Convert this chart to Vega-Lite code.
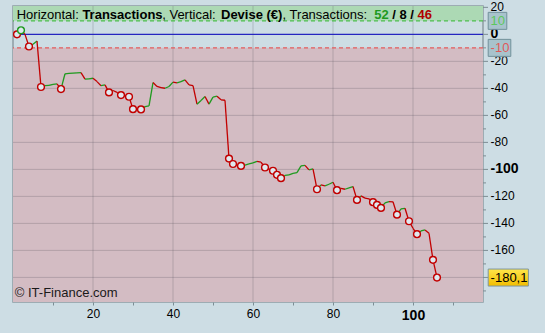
{
  "$schema": "https://vega.github.io/schema/vega-lite/v6.json",
  "width": 470,
  "height": 296,
  "autosize": {"type": "none"},
  "padding": {"left": 13, "top": 6, "right": 62, "bottom": 31},
  "background": "#cddde4",
  "config": {
    "view": {"fill": "#cddde4", "stroke": "#8d9ca3", "strokeWidth": 1.5},
    "font": "Liberation Sans",
    "text": {"font": "Liberation Sans"}
  },
  "resolve": {"scale": {"color": "independent", "fill": "independent", "stroke": "independent", "strokeDash": "independent"}},
  "datasets": {
    "eq": [
      {"t": 1, "v": 0, "c": "L"}, {"t": 2, "v": 3, "c": "G"}, {"t": 3, "v": 0, "c": ""}, {"t": 4, "v": -9, "c": "L"},
      {"t": 5, "v": -7.3, "c": ""}, {"t": 6, "v": -5, "c": ""}, {"t": 7, "v": -39, "c": "L"}, {"t": 8, "v": -38, "c": ""},
      {"t": 9, "v": -37.8, "c": ""}, {"t": 10, "v": -37, "c": ""}, {"t": 11, "v": -36.7, "c": ""}, {"t": 12, "v": -40.5, "c": "L"},
      {"t": 13, "v": -29.2, "c": ""}, {"t": 14, "v": -28.9, "c": ""}, {"t": 15, "v": -28.7, "c": ""}, {"t": 16, "v": -28.5, "c": ""},
      {"t": 17, "v": -28.4, "c": ""}, {"t": 18, "v": -33.2, "c": ""}, {"t": 19, "v": -33, "c": ""}, {"t": 20, "v": -32.5, "c": ""},
      {"t": 21, "v": -35, "c": ""}, {"t": 22, "v": -38, "c": ""}, {"t": 23, "v": -37.4, "c": ""}, {"t": 24, "v": -43, "c": "L"},
      {"t": 25, "v": -41.6, "c": ""}, {"t": 26, "v": -43, "c": ""}, {"t": 27, "v": -45, "c": "L"}, {"t": 28, "v": -45.5, "c": ""},
      {"t": 29, "v": -46.2, "c": "L"}, {"t": 30, "v": -55.4, "c": "L"}, {"t": 31, "v": -55.5, "c": ""}, {"t": 32, "v": -55.6, "c": "L"},
      {"t": 33, "v": -53.5, "c": ""}, {"t": 34, "v": -53, "c": ""}, {"t": 35, "v": -35.7, "c": ""}, {"t": 36, "v": -38.6, "c": ""},
      {"t": 37, "v": -39.5, "c": ""}, {"t": 38, "v": -39.9, "c": ""}, {"t": 39, "v": -38.6, "c": ""}, {"t": 40, "v": -35.4, "c": ""},
      {"t": 41, "v": -36, "c": ""}, {"t": 42, "v": -35, "c": ""}, {"t": 43, "v": -33.7, "c": ""}, {"t": 44, "v": -37.4, "c": ""},
      {"t": 45, "v": -38, "c": ""}, {"t": 46, "v": -51.7, "c": ""}, {"t": 47, "v": -49, "c": ""}, {"t": 48, "v": -46, "c": ""},
      {"t": 49, "v": -51.7, "c": ""}, {"t": 50, "v": -46.5, "c": ""}, {"t": 51, "v": -45.8, "c": ""}, {"t": 52, "v": -48.5, "c": ""},
      {"t": 53, "v": -48.8, "c": ""}, {"t": 54, "v": -92, "c": "L"}, {"t": 55, "v": -96, "c": "L"}, {"t": 56, "v": -96.8, "c": ""},
      {"t": 57, "v": -97.4, "c": "L"}, {"t": 58, "v": -96.8, "c": ""}, {"t": 59, "v": -96, "c": ""}, {"t": 60, "v": -95.2, "c": ""},
      {"t": 61, "v": -94, "c": ""}, {"t": 62, "v": -94.7, "c": ""}, {"t": 63, "v": -98.6, "c": "L"}, {"t": 64, "v": -99.8, "c": ""},
      {"t": 65, "v": -101, "c": "L"}, {"t": 66, "v": -104, "c": "L"}, {"t": 67, "v": -106.5, "c": "L"}, {"t": 68, "v": -104.5, "c": ""},
      {"t": 69, "v": -104, "c": ""}, {"t": 70, "v": -103, "c": ""}, {"t": 71, "v": -102.4, "c": ""}, {"t": 72, "v": -97.4, "c": ""},
      {"t": 73, "v": -97, "c": ""}, {"t": 74, "v": -100.4, "c": ""}, {"t": 75, "v": -99.6, "c": ""}, {"t": 76, "v": -114.7, "c": "L"},
      {"t": 77, "v": -111.5, "c": ""}, {"t": 78, "v": -112.2, "c": ""}, {"t": 79, "v": -111, "c": ""}, {"t": 80, "v": -109.5, "c": ""},
      {"t": 81, "v": -115.4, "c": "L"}, {"t": 82, "v": -114, "c": ""}, {"t": 83, "v": -114.7, "c": ""}, {"t": 84, "v": -113.7, "c": ""},
      {"t": 85, "v": -112.7, "c": ""}, {"t": 86, "v": -122.6, "c": "L"}, {"t": 87, "v": -119.6, "c": ""}, {"t": 88, "v": -121.3, "c": ""},
      {"t": 89, "v": -121.8, "c": ""}, {"t": 90, "v": -124.3, "c": "L"}, {"t": 91, "v": -126.3, "c": "L"}, {"t": 92, "v": -128.5, "c": "L"},
      {"t": 93, "v": -124.8, "c": ""}, {"t": 94, "v": -123.8, "c": ""}, {"t": 95, "v": -124, "c": ""}, {"t": 96, "v": -133.5, "c": "L"},
      {"t": 97, "v": -129.3, "c": ""}, {"t": 98, "v": -128.8, "c": ""}, {"t": 99, "v": -138.4, "c": "L"}, {"t": 100, "v": -143.6, "c": ""},
      {"t": 101, "v": -148, "c": "L"}, {"t": 102, "v": -145.6, "c": ""}, {"t": 103, "v": -144.8, "c": ""}, {"t": 104, "v": -147.3, "c": ""},
      {"t": 105, "v": -167, "c": "L"}, {"t": 106, "v": -180.1, "c": "L"}
    ],
    "ymajor": [
      {"g": 20}, {"g": 0}, {"g": -20}, {"g": -40}, {"g": -60}, {"g": -80}, {"g": -100}, {"g": -120}, {"g": -140}, {"g": -160}, {"g": -180}
    ],
    "yminor": [
      {"g": 10}, {"g": -10}, {"g": -30}, {"g": -50}, {"g": -70}, {"g": -90}, {"g": -110}, {"g": -130}, {"g": -150}, {"g": -170}, {"g": -190}
    ]
  },
  "layer": [
    {
      "data": {"values": [{"lo": 10, "hi": 21, "z": "gain"}, {"lo": -10, "hi": -198.2, "z": "loss"}]},
      "mark": {"type": "rect"},
      "encoding": {
        "y": {"field": "lo", "type": "quantitative", "axis": null, "scale": {"domain": [-198.2, 21], "nice": false, "zero": false, "padding": 0}},
        "y2": {"field": "hi"},
        "fill": {"field": "z", "type": "nominal", "scale": {"domain": ["gain", "loss"], "range": ["#acd9b4", "#d3bcc3"]}, "legend": null}
      }
    },
    {
      "data": {"values": [{"g": 20}, {"g": 40}, {"g": 60}, {"g": 80}, {"g": 100}]},
      "mark": {"type": "rule", "stroke": "#55505a", "strokeOpacity": 0.25, "strokeWidth": 1},
      "encoding": {
        "x": {"field": "g", "type": "quantitative", "scale": {"domain": [0, 117.5], "nice": false, "zero": false, "padding": 0}}
      }
    },
    {
      "data": {"values": [{"g": -180}, {"g": -160}, {"g": -140}, {"g": -120}, {"g": -100}, {"g": -80}, {"g": -60}, {"g": -40}, {"g": -20}]},
      "mark": {"type": "rule", "stroke": "#55505a", "strokeOpacity": 0.25, "strokeWidth": 1},
      "encoding": {"y": {"field": "g", "type": "quantitative", "axis": null}}
    },
    {
      "data": {"values": [{"v": 10, "k": "gain"}, {"v": 0, "k": "zero"}, {"v": -10, "k": "loss"}]},
      "mark": {"type": "rule", "strokeWidth": 1.2},
      "encoding": {
        "y": {"field": "v", "type": "quantitative", "axis": null},
        "color": {"field": "k", "type": "nominal", "scale": {"domain": ["gain", "zero", "loss"], "range": ["#4cbf4c", "#2626c0", "#e45c5c"]}, "legend": null},
        "strokeDash": {"field": "k", "type": "nominal", "scale": {"domain": ["gain", "zero", "loss"], "range": [[4, 3], [1, 0], [4, 3]]}, "legend": null}
      }
    },
    {
      "data": {"name": "ymajor"},
      "mark": {"type": "rule", "stroke": "#7d8d94", "strokeWidth": 1},
      "encoding": {"x": {"datum": 117.5}, "x2": {"datum": 118.75}, "y": {"field": "g", "type": "quantitative", "axis": null}}
    },
    {
      "data": {"name": "yminor"},
      "mark": {"type": "rule", "stroke": "#7d8d94", "strokeWidth": 1},
      "encoding": {"x": {"datum": 117.5}, "x2": {"datum": 118.25}, "y": {"field": "g", "type": "quantitative", "axis": null}}
    },
    {
      "data": {"name": "ymajor"},
      "transform": [{"filter": "datum.g % 100 != 0 && datum.g != -180"}],
      "mark": {"type": "text", "align": "left", "baseline": "middle", "fontSize": 12, "fontWeight": "normal", "color": "#000000"},
      "encoding": {"x": {"datum": 119.4}, "y": {"field": "g", "type": "quantitative", "axis": null}, "text": {"field": "g", "type": "nominal"}}
    },
    {
      "data": {"name": "ymajor"},
      "transform": [{"filter": "datum.g % 100 == 0"}],
      "mark": {"type": "text", "align": "left", "baseline": "middle", "fontSize": 14, "fontWeight": "bold", "color": "#000000"},
      "encoding": {"x": {"datum": 119.4}, "y": {"field": "g", "type": "quantitative", "axis": null}, "text": {"field": "g", "type": "nominal"}}
    },
    {
      "data": {"name": "eq"},
      "transform": [
        {"window": [{"op": "lead", "field": "v", "as": "v2"}, {"op": "lead", "field": "t", "as": "t2"}], "sort": [{"field": "t"}]},
        {"filter": "datum.t2 != null"}
      ],
      "mark": {"type": "rule", "strokeWidth": 1.3},
      "encoding": {
        "x": {
          "field": "t", "type": "quantitative",
          "axis": {
            "title": null, "domain": false, "grid": false,
            "values": [10, 20, 30, 40, 50, 60, 70, 80, 90, 100, 110],
            "labelExpr": "datum.value % 20 == 0 ? '' + datum.value : ''",
            "labelFontSize": {"condition": {"test": "datum.value == 100", "value": 14}, "value": 12},
            "labelFontWeight": {"condition": {"test": "datum.value == 100", "value": "bold"}, "value": "normal"},
            "labelColor": "#000000", "labelFont": "Liberation Sans",
            "tickColor": "#7d8d94", "tickSize": 3, "labelPadding": 3,
            "labelOverlap": false, "labelFlush": false
          }
        },
        "x2": {"field": "t2"},
        "y": {"field": "v", "type": "quantitative", "axis": null},
        "y2": {"field": "v2"},
        "color": {"condition": {"test": "datum.v2 >= datum.v", "value": "#1e9a1e"}, "value": "#c20000"}
      }
    },
    {
      "data": {"name": "eq"},
      "transform": [{"filter": "datum.c != ''"}],
      "mark": {"type": "point", "filled": false, "fill": "#dfe8ee", "fillOpacity": 1, "size": 46, "strokeWidth": 1.4, "opacity": 1},
      "encoding": {
        "x": {"field": "t", "type": "quantitative"},
        "y": {"field": "v", "type": "quantitative", "axis": null},
        "stroke": {"field": "c", "type": "nominal", "scale": {"domain": ["L", "G"], "range": ["#c20000", "#1e9a1e"]}, "legend": null}
      }
    },
    {
      "data": {"values": [{}]},
      "mark": {"type": "bar", "height": 17, "fill": "#a8c3cc", "stroke": "#71909a", "strokeWidth": 1},
      "encoding": {"x": {"datum": 118.8}, "x2": {"datum": 123.45}, "y": {"datum": 10, "axis": null}}
    },
    {
      "data": {"values": [{}]},
      "mark": {"type": "bar", "height": 17, "fill": "#a8c3cc", "stroke": "#71909a", "strokeWidth": 1},
      "encoding": {"x": {"datum": 118.8}, "x2": {"datum": 124.45}, "y": {"datum": -10, "axis": null}}
    },
    {
      "data": {"values": [{}]},
      "mark": {"type": "bar", "height": 17, "stroke": "#7f969e", "strokeWidth": 1,
        "fill": {"gradient": "linear", "x1": 0, "y1": 0, "x2": 0, "y2": 1, "stops": [{"offset": 0, "color": "#ffe64a"}, {"offset": 1, "color": "#f2bd00"}]}},
      "encoding": {"x": {"datum": 118.8}, "x2": {"datum": 128.85}, "y": {"datum": -180.1, "axis": null}}
    },
    {
      "data": {"values": [{"s": "10", "v": 10, "k": "g"}, {"s": "-10", "v": -10, "k": "l"}, {"s": "-180,1", "v": -180.1, "k": "y"}]},
      "mark": {"type": "text", "align": "left", "baseline": "middle", "fontSize": 13, "font": "Liberation Sans"},
      "encoding": {
        "x": {"datum": 119.4},
        "y": {"field": "v", "type": "quantitative", "axis": null},
        "text": {"field": "s"},
        "color": {"field": "k", "type": "nominal", "scale": {"domain": ["g", "l", "y"], "range": ["#5cc85c", "#e05a5a", "#000000"]}, "legend": null}
      }
    },
    {
      "data": {"values": [{}]},
      "mark": {"type": "text", "align": "left", "baseline": "middle", "fontSize": 13, "fontWeight": "normal", "color": "#000000"},
      "encoding": {"x": {"datum": 0.925}, "y": {"datum": 14.7, "axis": null}, "text": {"value": "Horizontal:"}}
    },
    {
      "data": {"values": [{}]},
      "mark": {"type": "text", "align": "left", "baseline": "middle", "fontSize": 13, "fontWeight": "bold", "color": "#000000"},
      "encoding": {"x": {"datum": 17.35}, "y": {"datum": 14.7, "axis": null}, "text": {"value": "Transactions"}}
    },
    {
      "data": {"values": [{}]},
      "mark": {"type": "text", "align": "left", "baseline": "middle", "fontSize": 13, "fontWeight": "normal", "color": "#000000"},
      "encoding": {"x": {"datum": 37.3}, "y": {"datum": 14.7, "axis": null}, "text": {"value": ", Vertical:"}}
    },
    {
      "data": {"values": [{}]},
      "mark": {"type": "text", "align": "left", "baseline": "middle", "fontSize": 13, "fontWeight": "bold", "color": "#000000"},
      "encoding": {"x": {"datum": 52.0}, "y": {"datum": 14.7, "axis": null}, "text": {"value": "Devise (€)"}}
    },
    {
      "data": {"values": [{}]},
      "mark": {"type": "text", "align": "left", "baseline": "middle", "fontSize": 13, "fontWeight": "normal", "color": "#000000"},
      "encoding": {"x": {"datum": 67.4}, "y": {"datum": 14.7, "axis": null}, "text": {"value": ", Transactions:"}}
    },
    {
      "data": {"values": [{}]},
      "mark": {"type": "text", "align": "left", "baseline": "middle", "fontSize": 13, "fontWeight": "bold", "color": "#1e9a1e"},
      "encoding": {"x": {"datum": 90.3}, "y": {"datum": 14.7, "axis": null}, "text": {"value": "52"}}
    },
    {
      "data": {"values": [{}]},
      "mark": {"type": "text", "align": "left", "baseline": "middle", "fontSize": 13, "fontWeight": "bold", "color": "#000000"},
      "encoding": {"x": {"datum": 94.8}, "y": {"datum": 14.7, "axis": null}, "text": {"value": "/ 8 /"}}
    },
    {
      "data": {"values": [{}]},
      "mark": {"type": "text", "align": "left", "baseline": "middle", "fontSize": 13, "fontWeight": "bold", "color": "#b00000"},
      "encoding": {"x": {"datum": 101.15}, "y": {"datum": 14.7, "axis": null}, "text": {"value": "46"}}
    },
    {
      "data": {"values": [{}]},
      "mark": {"type": "text", "align": "left", "baseline": "middle", "fontSize": 13, "fontWeight": "normal", "color": "#1a1a1a"},
      "encoding": {"x": {"datum": 0.45}, "y": {"datum": -191.9, "axis": null}, "text": {"value": "© IT-Finance.com"}}
    }
  ]
}
